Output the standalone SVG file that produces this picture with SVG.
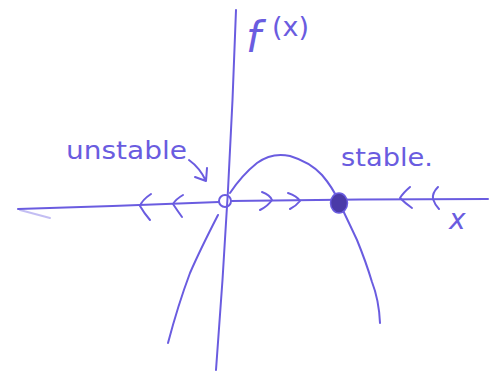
<svg xmlns="http://www.w3.org/2000/svg" width="490" height="381" viewBox="0 0 490 381">
<style>
.ink{fill:none;stroke:#6a5ce0;stroke-width:2;stroke-linecap:round;stroke-linejoin:round}
.lbl{fill:#6a5ce0;font-family:"DejaVu Sans","Liberation Sans",sans-serif}
</style>
<rect width="490" height="381" fill="#ffffff"/>
<g id="axes">
<path class="ink" d="M18,209 Q120,206 219,202 M231,201 Q360,199 488,199"/>
<path class="ink" d="M20,210 L50,218" stroke-opacity="0.4"/>
<path class="ink" d="M236,10 Q230,190 216,370"/>
</g>
<g id="curve">
<path class="ink" d="M218,215 Q200,250 190,273 Q178,305 168,343"/>
<path class="ink" d="M230,193 Q242,175 257,163 Q272,152 290,156 Q310,162 322,175 Q333,188 338,200 Q350,225 357,240 Q366,262 372,282 Q379,300 380,323"/>
</g>
<g id="flow-arrows">
<path class="ink" d="M151,194 Q142,200 140,206 Q144,213 150,220"/>
<path class="ink" d="M183,195 Q176,199 173,204 Q177,210 182,217"/>
<path class="ink" d="M262,192 Q270,195 272,200 Q268,206 260,210"/>
<path class="ink" d="M288,193 Q297,196 300,201 Q296,206 290,209"/>
<path class="ink" d="M410,187 Q403,193 400,198 Q405,203 412,208"/>
<path class="ink" d="M438,187 Q432,193 433,199 Q435,205 439,209"/>
</g>
<g id="unstable-point">
<circle cx="225" cy="201" r="6" class="ink"/>
</g>
<g id="stable-point">
<ellipse cx="339" cy="203" rx="8.5" ry="10" fill="#4a3aa8" stroke="#6a5ce0" stroke-width="1.5"/>
</g>
<g id="labels">
<text class="lbl" x="246" y="52" font-size="42" font-style="italic">f</text>
<text class="lbl" x="272" y="36" font-size="27">(x)</text>
<text class="lbl" x="449" y="229" font-size="28" font-style="italic">x</text>
<text class="lbl" x="66" y="159" font-size="24" textLength="121" lengthAdjust="spacingAndGlyphs">unstable</text>
<text class="lbl" x="341" y="166" font-size="24" textLength="92" lengthAdjust="spacingAndGlyphs">stable.</text>
</g>
<g id="connectors">
<path class="ink" d="M189,160 Q200,168 206,181 M206,181 L207,168 M206,181 L195,177"/>
</g>
</svg>
